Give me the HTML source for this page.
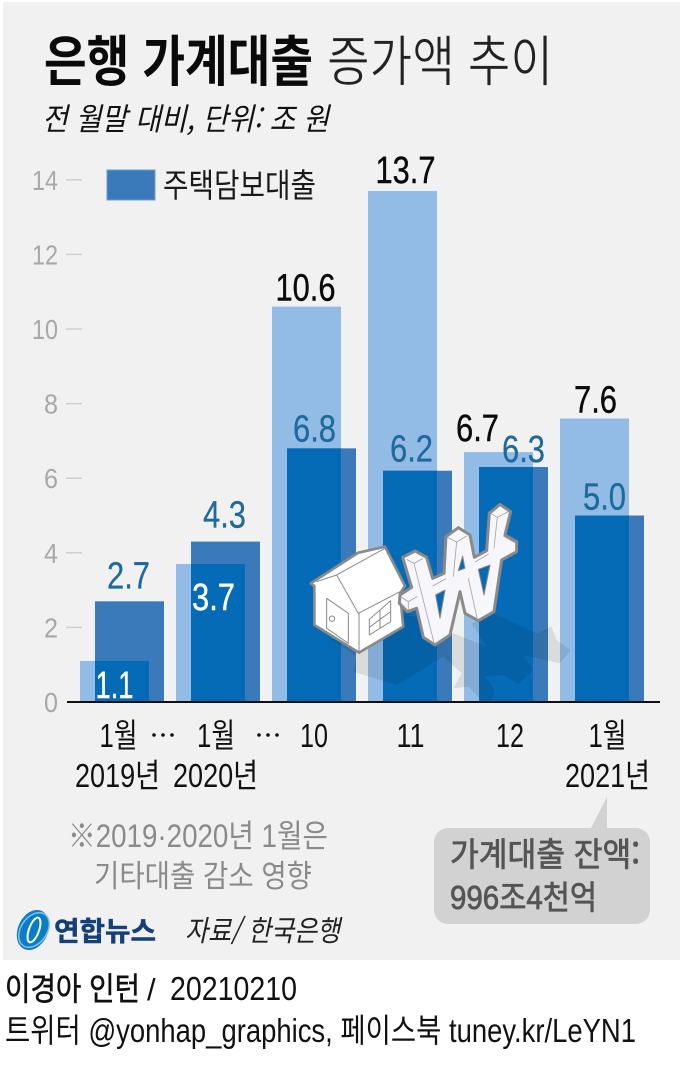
<!DOCTYPE html>
<html lang="ko">
<head>
<meta charset="utf-8">
<title>은행 가계대출 증가액 추이</title>
<style>
html,body{margin:0;padding:0;background:#fff;width:683px;height:1072px;overflow:hidden}
svg{display:block}
text{font-family:"Liberation Sans","Noto Sans CJK KR",sans-serif}
.k{font-family:"Noto Sans CJK KR","Liberation Sans",sans-serif}
</style>
</head>
<body>
<svg id="chart" xmlns="http://www.w3.org/2000/svg" width="683" height="1072" viewBox="0 0 683 1072">
  <rect x="3" y="2" width="677" height="958" fill="#f1f1f1"/>

  <text class="k" x="44" y="81" font-size="55" font-weight="700" fill="#0a0a0a" textLength="269" lengthAdjust="spacingAndGlyphs">은행 가계대출</text>
  <text class="k" x="327" y="81" font-size="55" font-weight="400" fill="#222" stroke="#f1f1f1" stroke-width=".8" textLength="226" lengthAdjust="spacingAndGlyphs">증가액 추이</text>
  <text class="k" x="42" y="130" font-size="31" font-style="italic" fill="#111" textLength="287" lengthAdjust="spacingAndGlyphs">전 월말 대비, 단위: 조 원</text>

  <rect x="107" y="170" width="48" height="30" fill="#3a7aba" stroke="#6f9fd0" stroke-width="1"/>
  <text class="k" x="163" y="197" font-size="33" fill="#1a1a1a" textLength="153" lengthAdjust="spacingAndGlyphs">주택담보대출</text>

  <g id="y-axis"></g>
  <g id="bars"></g>

  <g transform="translate(290 480) scale(.3333)">
    <polygon fill="#000" fill-opacity=".09" points="125,480 200,530 190,575 320,615 460,530 515,580 490,625 535,620 575,662 605,662 615,630 585,590 640,585 685,612 730,570 700,525 810,550 842,510 800,480 785,440 740,460 610,400 545,430 590,500 490,460 350,400"/>
    <g stroke="#8a8a8a" fill="#fff" stroke-linejoin="round">
      <polygon stroke-width="8" points="62,310 205,218 285,200 345,318 330,340 340,440 207,518 73,435 73,318"/>
      <g fill="none" stroke-width="3">
        <polyline points="80,305 140,285 205,400 330,335"/>
        <line x1="140" y1="285" x2="285" y2="205"/>
        <line x1="207" y1="400" x2="207" y2="515"/>
        <polygon points="110,355 175,400 175,490 110,445"/>
        <polygon points="238,418 302,362 302,425 238,465"/>
        <line x1="270" y1="390" x2="270" y2="445"/>
        <line x1="238" y1="442" x2="302" y2="395"/>
        <circle cx="126" cy="416" r="8"/>
      </g>
    </g>
    <g stroke="#8a8a8a" stroke-linejoin="round">
      <polygon fill="#f6f6fb" stroke-width="9" points="338,232 375,213 410,232 428,295 462,280 468,170 505,143 540,165 553,232 590,212 598,100 630,73 662,95 645,165 680,185 680,215 635,240 612,395 565,422 525,400 510,335 480,465 435,495 400,472 380,385 352,395 328,370 330,345 365,322 358,300"/>
      <g fill="#056bb6" stroke-width="3">
        <polygon points="437,345 465,330 450,415"/>
        <polygon points="505,272 518,228 525,265"/>
        <polygon points="565,268 600,255 582,345"/>
      </g>
      <g fill="none" stroke-width="2.5" stroke="#a5a5a5">
        <polyline points="350,238 372,250 398,236"/>
        <line x1="372" y1="250" x2="432" y2="488"/>
        <polyline points="472,172 500,186 530,168"/>
        <line x1="500" y1="186" x2="490" y2="290"/>
        <line x1="535" y1="295" x2="562" y2="418"/>
        <polyline points="602,100 622,112 655,95"/>
        <line x1="622" y1="112" x2="612" y2="205"/>
        <polyline points="332,350 355,365 382,350"/>
        <line x1="355" y1="365" x2="355" y2="390"/>
        <line x1="428" y1="318" x2="468" y2="296"/>
        <line x1="555" y1="246" x2="596" y2="222"/>
        <line x1="640" y1="168" x2="674" y2="188"/>
      </g>
    </g>
  </g>

  <rect x="67" y="701" width="593" height="2" fill="#111"/>

  <g id="x-axis"></g>

  <g fill="#8a8a8a">
    <text x="68" y="847" font-size="32" textLength="260" lengthAdjust="spacingAndGlyphs">※2019·2020년 1월은</text>
    <text class="k" x="94" y="887" font-size="31" textLength="218" lengthAdjust="spacingAndGlyphs">기타대출 감소 영향</text>
  </g>

  <g>
    <polygon points="590,830 607,797 607,830" fill="#d2d2d2"/>
    <rect x="434" y="828" width="216" height="96" rx="14" fill="#d2d2d2"/>
    <text class="k" x="450" y="866" font-size="33" fill="#555" stroke="#555" stroke-width=".8" textLength="190" lengthAdjust="spacingAndGlyphs">가계대출 잔액:</text>
    <text x="450" y="909" font-size="33" fill="#555" stroke="#555" stroke-width=".8" textLength="147" lengthAdjust="spacingAndGlyphs">996조4천억</text>
  </g>

  <g>
    <ellipse cx="33" cy="930" rx="15" ry="21" transform="rotate(25 33 930)" fill="#0b7cc6"/>
    <ellipse cx="34" cy="930" rx="5" ry="13" transform="rotate(20 34 930)" fill="none" stroke="#fff" stroke-width="2"/>
    <ellipse cx="34" cy="930" rx="13" ry="19" transform="rotate(35 34 930)" fill="none" stroke="#7fc1ea" stroke-width="1.5"/>
    <text class="k" x="54" y="941" font-size="27" font-weight="700" fill="#143f78" stroke="#143f78" stroke-width=".5" textLength="102" lengthAdjust="spacingAndGlyphs">연합뉴스</text>
  </g>
  <text class="k" x="185" y="941" font-size="29" font-style="italic" fill="#222" textLength="155" lengthAdjust="spacingAndGlyphs">자료/ 한국은행</text>

  <text class="k" x="5" y="1000" font-size="32" fill="#111" stroke="#111" stroke-width=".6" textLength="135" lengthAdjust="spacingAndGlyphs">이경아 인턴</text>
  <text x="147" y="1000" font-size="31" fill="#111">/</text>
  <text x="170" y="1000" font-size="33" fill="#111" textLength="127" lengthAdjust="spacingAndGlyphs">20210210</text>
  <text x="5" y="1042" font-size="33" fill="#111" textLength="631" lengthAdjust="spacingAndGlyphs">트위터 @yonhap_graphics, 페이스북 tuney.kr/LeYN1</text>
</svg>

<script>
const categories = ['1월 2019년', '1월 2020년', '10', '11', '12', '1월 2021년'];
const totalLoans = [1.1, 3.7, 10.6, 13.7, 6.7, 7.6];
const mortgageLoans = [2.7, 4.3, 6.8, 6.2, 6.3, 5.0];
const yTicks = [0, 2, 4, 6, 8, 10, 12, 14];
const monthLabels = ['1월', '1월', '10', '11', '12', '1월'];
const yearLabels = ['2019년', '2020년', '', '', '', '2021년'];

const NS = 'http://www.w3.org/2000/svg';
const PLOT = { x0: 80, step: 96, barW: 69, offset: 15, y0: 702, unit: 37.3 };
const yScale = v => PLOT.y0 - v * PLOT.unit;
const lightX = i => PLOT.x0 + i * PLOT.step;
const darkX = i => lightX(i) + PLOT.offset;

function make(tag, parent) {
  const el = document.createElementNS(NS, tag);
  parent.appendChild(el);
  return el;
}
function setAttrs(el, attrs) {
  for (const k in attrs) el.setAttribute(k, attrs[k]);
}

const barsG = document.getElementById('bars');
const yG = document.getElementById('y-axis');
const xG = document.getElementById('x-axis');

yTicks.forEach(t => {
  const y = yScale(t);
  const line = make('line', yG);
  
  
  setAttrs(line, { x1: 66, x2: 82, y1: y, y2: y, stroke: '#cfcfcf', 'stroke-width': 1.5 });
  if (t === 0) line.setAttribute('stroke-opacity', 0);
  const label = make('text', yG);
  
  
  setAttrs(label, { x: 58, y: y + 10, 'text-anchor': 'end', 'font-size': 28, fill: '#a8a8a8', textLength: t >= 10 ? 26 : 14, lengthAdjust: 'spacingAndGlyphs' });
  label.textContent = String(t);
});

categories.forEach((c, i) => {
  const lx = lightX(i), dx = darkX(i), w = PLOT.barW;
  const tTop = yScale(totalLoans[i]);
  const mTop = yScale(mortgageLoans[i]);

  const light = make('rect', barsG);
  
  
  setAttrs(light, { x: lx, y: tTop, width: w, height: PLOT.y0 - tTop, fill: '#92bce6' });

  const dark = make('rect', barsG);
  
  
  setAttrs(dark, { x: dx, y: mTop, width: w, height: PLOT.y0 - mTop, fill: '#3a7aba' });

  const oTop = Math.max(tTop, mTop);
  const overlap = make('rect', barsG);
  
  
  setAttrs(overlap, { x: dx, y: oTop, width: lx + w - dx, height: PLOT.y0 - oTop, fill: '#056bb6' });
});

// Small hand placement tweaks for the printed values, as in the source graphic
const totalNudge = [0, 3, -1, 3, -21, 1];
const totalLift = [0, 0, 6, 8, 11, 6];
const mortgageNudge = [-1, -1, -7, -6, 10, -5];
const mortgageLift = [13, 14, 7, 9, 5, 6];

categories.forEach((c, i) => {
  const w = PLOT.barW;
  const tv = totalLoans[i], mv = mortgageLoans[i];
  const tTop = yScale(tv), mTop = yScale(mv);
  const tInside = tv < mv - 0.5;
  const tText = tv.toFixed(1);
  const tLabel = make('text', barsG);
  
  
  setAttrs(tLabel, {
    x: lightX(i) + w / 2 + totalNudge[i],
    y: tInside ? Math.min(tTop + 46, PLOT.y0 - 4) : tTop - totalLift[i],
    'text-anchor': 'middle', 'font-size': 38,
    fill: tInside ? '#ffffff' : '#0a0a0a',
    stroke: tInside ? '#ffffff' : '#0a0a0a',
    'stroke-width': 0.4,
    textLength: tText.length > 3 ? 60 : (tText === '1.1' ? 38 : 43),
    lengthAdjust: 'spacingAndGlyphs'
  });
  tLabel.textContent = tText;

  const mLabel = make('text', barsG);
  
  
  setAttrs(mLabel, {
    x: darkX(i) + w / 2 + mortgageNudge[i],
    y: mTop - mortgageLift[i],
    'text-anchor': 'middle', 'font-size': 38,
    fill: '#1d6a9c', stroke: '#1d6a9c', 'stroke-width': 0.3,
    textLength: 43, lengthAdjust: 'spacingAndGlyphs'
  });
  mLabel.textContent = mv.toFixed(1);
});

// Category labels
const labelCenters = i => lightX(i) + PLOT.barW / 2;
const monthNudge = [4, 5.5, 7.5, 8, 11.5, 13];
const yearNudge = [3, 5, 0, 0, 0, 13];
categories.forEach((c, i) => {
  const hasKo = monthLabels[i].includes('월');
  const m = make('text', xG);
  
  
  setAttrs(m, { x: labelCenters(i) + monthNudge[i], y: 747, 'text-anchor': 'middle', 'font-size': 33, fill: '#111', textLength: hasKo ? 38 : 28, lengthAdjust: 'spacingAndGlyphs' });
  m.textContent = monthLabels[i];
  if (yearLabels[i]) {
    const yr = make('text', xG);
    
    
    setAttrs(yr, { x: labelCenters(i) + yearNudge[i], y: 787, 'text-anchor': 'middle', 'font-size': 33, fill: '#111', textLength: 85, lengthAdjust: 'spacingAndGlyphs' });
    yr.textContent = yearLabels[i];
  }
});
[163, 268].forEach(cx => {
  [-9, 0, 9].forEach(d => {
    const dot = make('circle', xG);
    
    
    setAttrs(dot, { cx: cx + d, cy: 735, r: 1.8, fill: '#111' });
  });
});
</script>
</body>
</html>
